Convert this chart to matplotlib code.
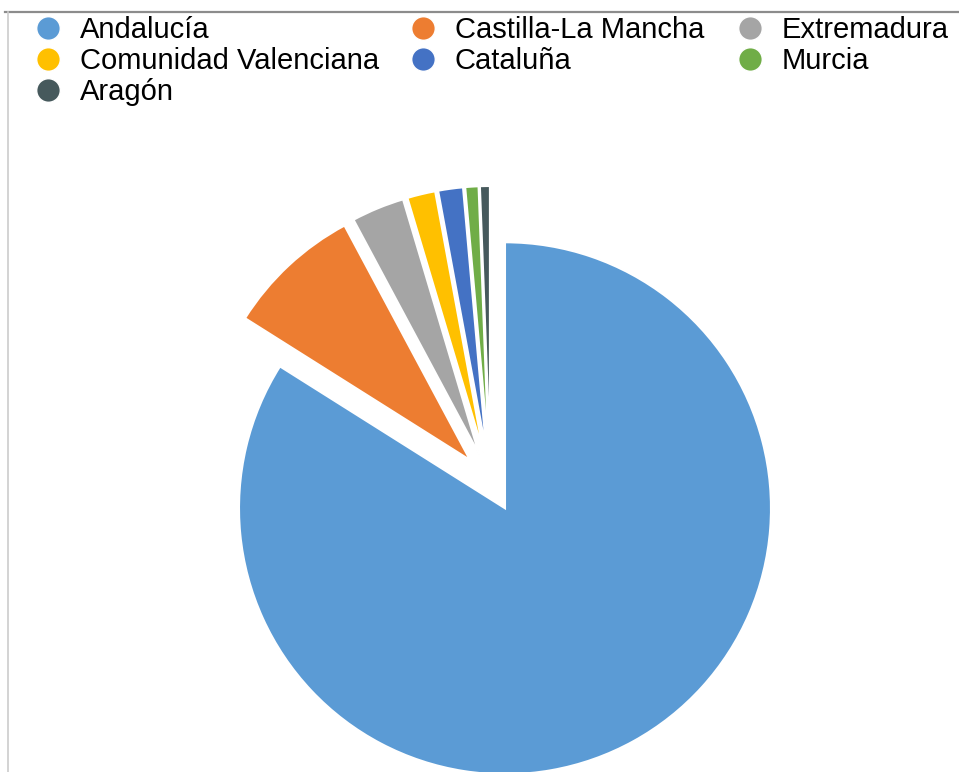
import matplotlib.pyplot as plt
from matplotlib.lines import Line2D

plt.rcParams['font.family'] = ['Liberation Sans', 'DejaVu Sans']

# share of each region (%)
regions = ['Andalucía', 'Castilla-La Mancha', 'Extremadura',
           'Comunidad Valenciana', 'Cataluña', 'Murcia', 'Aragón']
shares = [83.7, 8.2, 3.2, 1.7, 1.5, 0.8, 0.6]
colors = ['#5B9BD5', '#ED7D31', '#A5A5A5', '#FFC000', '#4472C4', '#70AD47', '#46595C']

W, H = 959, 772
R = 266
# all slices pulled out from the centre by the same amount
explode = [30] * len(shares)

fig = plt.figure(figsize=(W / 100, H / 100), dpi=100)
ax = fig.add_axes([0, 0, 1, 1])

ax.pie(shares, colors=colors, explode=explode, startangle=90, counterclock=False,
       center=(490.5, H - 482), radius=R, frame=True,
       wedgeprops=dict(edgecolor='white', linewidth=1.5))
ax.set_xlim(0, W)
ax.set_ylim(0, H)
ax.set_aspect('equal')
ax.axis('off')

# frame lines
ax.add_line(Line2D([5, W], [H - 12, H - 12], color='#8c8c8c', lw=1.6))
ax.add_line(Line2D([8, 8], [0, H - 12], color='#cccccc', lw=1.2))

# legend, filled row by row
col_x = [48, 423, 750]
row_y = [28, 59, 90]
for i, (name, c) in enumerate(zip(regions, colors)):
    r, k = divmod(i, 3)
    ax.plot(col_x[k], H - row_y[r], 'o', ms=17, color=c, mec='white', mew=1)
    ax.text(col_x[k] + 32, H - row_y[r] - 2, name, fontsize=21, va='center', ha='left')

fig.savefig('out.png', dpi=100)
